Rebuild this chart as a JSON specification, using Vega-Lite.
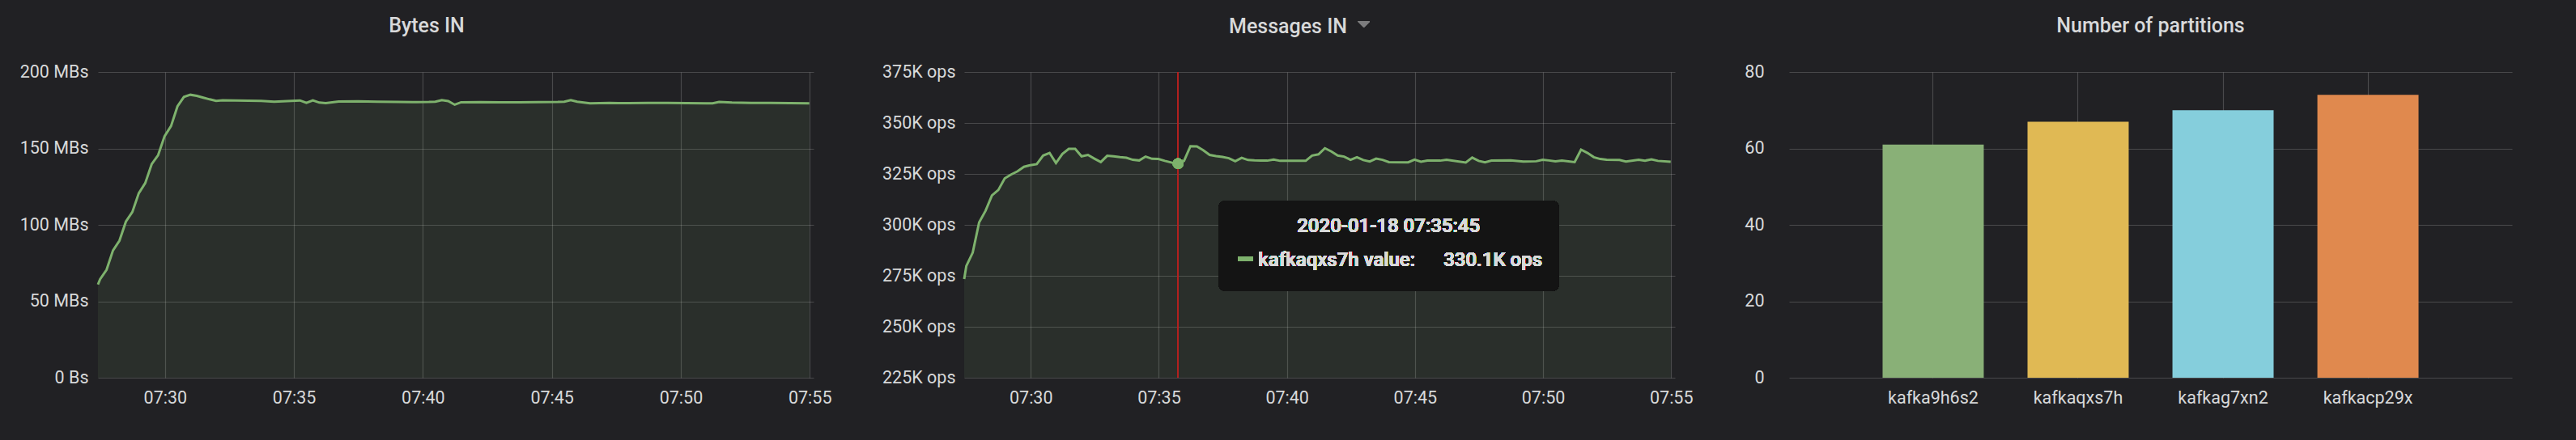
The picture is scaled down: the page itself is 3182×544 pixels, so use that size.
{
  "$schema": "https://vega.github.io/schema/vega-lite/v6.json",
  "background": "#212124",
  "padding": {"left": 24, "top": 19, "right": 90, "bottom": 80},
  "spacing": 62,
  "config": {
    "font": "Roboto",
    "view": {"stroke": null},
    "axis": {
      "domain": false, "ticks": false, "tickSize": 0,
      "labelColor": "#d8d9da", "labelFontSize": 21.5, "labelFont": "Roboto",
      "gridColor": "#ffffff", "gridOpacity": 0.18, "gridWidth": 1.2,
      "title": null, "labelFlush": false, "labelOverlap": false
    },
    "title": {"color": "#d8d9da", "fontSize": 25, "fontWeight": 500, "font": "Roboto", "anchor": "middle", "baseline": "alphabetic", "offset": 33.5}
  },
  "datasets": {
    "bytes": [
      {"time": "2020-01-18T07:27:24", "mbps": 61.0},
      {"time": "2020-01-18T07:27:29", "mbps": 64.5},
      {"time": "2020-01-18T07:27:44", "mbps": 70.6},
      {"time": "2020-01-18T07:27:59", "mbps": 83.3},
      {"time": "2020-01-18T07:28:14", "mbps": 89.7},
      {"time": "2020-01-18T07:28:29", "mbps": 102.1},
      {"time": "2020-01-18T07:28:44", "mbps": 108.4},
      {"time": "2020-01-18T07:28:59", "mbps": 120.7},
      {"time": "2020-01-18T07:29:14", "mbps": 127.3},
      {"time": "2020-01-18T07:29:29", "mbps": 139.7},
      {"time": "2020-01-18T07:29:44", "mbps": 145.6},
      {"time": "2020-01-18T07:29:59", "mbps": 158.0},
      {"time": "2020-01-18T07:30:14", "mbps": 164.6},
      {"time": "2020-01-18T07:30:29", "mbps": 177.5},
      {"time": "2020-01-18T07:30:44", "mbps": 183.7},
      {"time": "2020-01-18T07:30:59", "mbps": 185.1},
      {"time": "2020-01-18T07:31:14", "mbps": 184.4},
      {"time": "2020-01-18T07:31:29", "mbps": 183.2},
      {"time": "2020-01-18T07:31:44", "mbps": 182.1},
      {"time": "2020-01-18T07:31:59", "mbps": 181.1},
      {"time": "2020-01-18T07:32:14", "mbps": 181.5},
      {"time": "2020-01-18T07:32:44", "mbps": 181.3},
      {"time": "2020-01-18T07:33:14", "mbps": 181.2},
      {"time": "2020-01-18T07:33:44", "mbps": 181.1},
      {"time": "2020-01-18T07:34:14", "mbps": 180.6},
      {"time": "2020-01-18T07:34:44", "mbps": 181.0},
      {"time": "2020-01-18T07:35:14", "mbps": 181.4},
      {"time": "2020-01-18T07:35:29", "mbps": 179.8},
      {"time": "2020-01-18T07:35:44", "mbps": 181.4},
      {"time": "2020-01-18T07:35:59", "mbps": 180.0},
      {"time": "2020-01-18T07:36:14", "mbps": 179.6},
      {"time": "2020-01-18T07:36:29", "mbps": 180.2},
      {"time": "2020-01-18T07:36:44", "mbps": 180.7},
      {"time": "2020-01-18T07:37:29", "mbps": 180.8},
      {"time": "2020-01-18T07:38:14", "mbps": 180.6},
      {"time": "2020-01-18T07:38:59", "mbps": 180.4},
      {"time": "2020-01-18T07:39:44", "mbps": 180.3},
      {"time": "2020-01-18T07:40:14", "mbps": 180.4},
      {"time": "2020-01-18T07:40:29", "mbps": 180.6},
      {"time": "2020-01-18T07:40:44", "mbps": 181.6},
      {"time": "2020-01-18T07:40:59", "mbps": 181.0},
      {"time": "2020-01-18T07:41:14", "mbps": 178.6},
      {"time": "2020-01-18T07:41:29", "mbps": 180.2},
      {"time": "2020-01-18T07:42:14", "mbps": 180.3},
      {"time": "2020-01-18T07:42:59", "mbps": 180.1},
      {"time": "2020-01-18T07:43:44", "mbps": 180.2},
      {"time": "2020-01-18T07:44:29", "mbps": 180.3},
      {"time": "2020-01-18T07:45:14", "mbps": 180.4},
      {"time": "2020-01-18T07:45:29", "mbps": 180.6},
      {"time": "2020-01-18T07:45:44", "mbps": 181.6},
      {"time": "2020-01-18T07:45:59", "mbps": 180.6},
      {"time": "2020-01-18T07:46:29", "mbps": 179.5},
      {"time": "2020-01-18T07:47:14", "mbps": 179.7},
      {"time": "2020-01-18T07:47:59", "mbps": 179.6},
      {"time": "2020-01-18T07:48:44", "mbps": 179.8},
      {"time": "2020-01-18T07:49:29", "mbps": 179.7},
      {"time": "2020-01-18T07:50:14", "mbps": 179.6},
      {"time": "2020-01-18T07:50:59", "mbps": 179.5},
      {"time": "2020-01-18T07:51:14", "mbps": 179.5},
      {"time": "2020-01-18T07:51:29", "mbps": 180.4},
      {"time": "2020-01-18T07:51:59", "mbps": 180.0},
      {"time": "2020-01-18T07:52:44", "mbps": 179.8},
      {"time": "2020-01-18T07:53:29", "mbps": 179.7},
      {"time": "2020-01-18T07:54:14", "mbps": 179.6},
      {"time": "2020-01-18T07:54:59", "mbps": 179.5}
    ],
    "msgs": [
      {"time": "2020-01-18T07:27:24", "kops": 273.4},
      {"time": "2020-01-18T07:27:29", "kops": 279.8},
      {"time": "2020-01-18T07:27:44", "kops": 286.4},
      {"time": "2020-01-18T07:27:59", "kops": 301.2},
      {"time": "2020-01-18T07:28:14", "kops": 306.9},
      {"time": "2020-01-18T07:28:29", "kops": 314.4},
      {"time": "2020-01-18T07:28:44", "kops": 317.1},
      {"time": "2020-01-18T07:28:59", "kops": 322.8},
      {"time": "2020-01-18T07:29:14", "kops": 324.7},
      {"time": "2020-01-18T07:29:29", "kops": 326.3},
      {"time": "2020-01-18T07:29:44", "kops": 328.5},
      {"time": "2020-01-18T07:29:59", "kops": 329.3},
      {"time": "2020-01-18T07:30:14", "kops": 329.8},
      {"time": "2020-01-18T07:30:29", "kops": 334.0},
      {"time": "2020-01-18T07:30:44", "kops": 335.3},
      {"time": "2020-01-18T07:30:59", "kops": 330.3},
      {"time": "2020-01-18T07:31:14", "kops": 334.8},
      {"time": "2020-01-18T07:31:29", "kops": 337.3},
      {"time": "2020-01-18T07:31:44", "kops": 337.3},
      {"time": "2020-01-18T07:31:59", "kops": 333.6},
      {"time": "2020-01-18T07:32:14", "kops": 334.3},
      {"time": "2020-01-18T07:32:29", "kops": 332.5},
      {"time": "2020-01-18T07:32:44", "kops": 330.8},
      {"time": "2020-01-18T07:32:59", "kops": 333.9},
      {"time": "2020-01-18T07:33:14", "kops": 333.6},
      {"time": "2020-01-18T07:33:29", "kops": 333.2},
      {"time": "2020-01-18T07:33:44", "kops": 332.9},
      {"time": "2020-01-18T07:33:59", "kops": 331.9},
      {"time": "2020-01-18T07:34:14", "kops": 331.6},
      {"time": "2020-01-18T07:34:29", "kops": 333.5},
      {"time": "2020-01-18T07:34:44", "kops": 332.4},
      {"time": "2020-01-18T07:34:59", "kops": 332.3},
      {"time": "2020-01-18T07:35:14", "kops": 331.4},
      {"time": "2020-01-18T07:35:29", "kops": 330.6},
      {"time": "2020-01-18T07:35:44", "kops": 329.8},
      {"time": "2020-01-18T07:35:59", "kops": 331.4},
      {"time": "2020-01-18T07:36:14", "kops": 338.6},
      {"time": "2020-01-18T07:36:29", "kops": 338.5},
      {"time": "2020-01-18T07:36:44", "kops": 336.6},
      {"time": "2020-01-18T07:36:59", "kops": 334.3},
      {"time": "2020-01-18T07:37:14", "kops": 333.7},
      {"time": "2020-01-18T07:37:29", "kops": 333.3},
      {"time": "2020-01-18T07:37:44", "kops": 332.7},
      {"time": "2020-01-18T07:37:59", "kops": 331.2},
      {"time": "2020-01-18T07:38:14", "kops": 332.9},
      {"time": "2020-01-18T07:38:29", "kops": 331.8},
      {"time": "2020-01-18T07:38:44", "kops": 331.6},
      {"time": "2020-01-18T07:38:59", "kops": 331.5},
      {"time": "2020-01-18T07:39:14", "kops": 331.5},
      {"time": "2020-01-18T07:39:29", "kops": 332.0},
      {"time": "2020-01-18T07:39:44", "kops": 331.4},
      {"time": "2020-01-18T07:40:14", "kops": 331.4},
      {"time": "2020-01-18T07:40:44", "kops": 331.4},
      {"time": "2020-01-18T07:40:59", "kops": 334.0},
      {"time": "2020-01-18T07:41:14", "kops": 334.6},
      {"time": "2020-01-18T07:41:29", "kops": 337.6},
      {"time": "2020-01-18T07:41:44", "kops": 336.0},
      {"time": "2020-01-18T07:41:59", "kops": 334.0},
      {"time": "2020-01-18T07:42:14", "kops": 333.5},
      {"time": "2020-01-18T07:42:29", "kops": 331.9},
      {"time": "2020-01-18T07:42:44", "kops": 333.2},
      {"time": "2020-01-18T07:42:59", "kops": 331.8},
      {"time": "2020-01-18T07:43:14", "kops": 331.1},
      {"time": "2020-01-18T07:43:29", "kops": 332.5},
      {"time": "2020-01-18T07:43:44", "kops": 331.9},
      {"time": "2020-01-18T07:43:59", "kops": 330.8},
      {"time": "2020-01-18T07:44:44", "kops": 330.7},
      {"time": "2020-01-18T07:44:59", "kops": 332.0},
      {"time": "2020-01-18T07:45:14", "kops": 331.0},
      {"time": "2020-01-18T07:45:29", "kops": 331.5},
      {"time": "2020-01-18T07:45:59", "kops": 331.5},
      {"time": "2020-01-18T07:46:14", "kops": 331.9},
      {"time": "2020-01-18T07:46:59", "kops": 330.6},
      {"time": "2020-01-18T07:47:14", "kops": 333.0},
      {"time": "2020-01-18T07:47:29", "kops": 331.4},
      {"time": "2020-01-18T07:47:44", "kops": 330.7},
      {"time": "2020-01-18T07:47:59", "kops": 331.5},
      {"time": "2020-01-18T07:48:44", "kops": 331.6},
      {"time": "2020-01-18T07:49:14", "kops": 331.1},
      {"time": "2020-01-18T07:49:44", "kops": 331.2},
      {"time": "2020-01-18T07:49:59", "kops": 331.9},
      {"time": "2020-01-18T07:50:14", "kops": 331.6},
      {"time": "2020-01-18T07:50:29", "kops": 331.2},
      {"time": "2020-01-18T07:50:44", "kops": 331.5},
      {"time": "2020-01-18T07:51:14", "kops": 330.8},
      {"time": "2020-01-18T07:51:29", "kops": 336.9},
      {"time": "2020-01-18T07:51:44", "kops": 335.3},
      {"time": "2020-01-18T07:51:59", "kops": 333.2},
      {"time": "2020-01-18T07:52:14", "kops": 332.3},
      {"time": "2020-01-18T07:52:29", "kops": 331.9},
      {"time": "2020-01-18T07:52:59", "kops": 331.8},
      {"time": "2020-01-18T07:53:14", "kops": 331.1},
      {"time": "2020-01-18T07:53:44", "kops": 331.9},
      {"time": "2020-01-18T07:53:59", "kops": 331.5},
      {"time": "2020-01-18T07:54:14", "kops": 332.1},
      {"time": "2020-01-18T07:54:29", "kops": 331.4},
      {"time": "2020-01-18T07:54:59", "kops": 331.0}
    ],
    "parts": [
      {"broker": "kafka9h6s2", "partitions": 61},
      {"broker": "kafkaqxs7h", "partitions": 67},
      {"broker": "kafkag7xn2", "partitions": 70},
      {"broker": "kafkacp29x", "partitions": 74}
    ]
  },
  "hconcat": [
    {
      "width": 884, "height": 378,
      "title": {"text": "Bytes IN", "dx": -36},
      "data": {"name": "bytes"},
      "encoding": {
        "x": {"field": "time", "type": "temporal",
          "scale": {"domain": [{"year": 2020, "month": 1, "date": 18, "hours": 7, "minutes": 27, "seconds": 24}, {"year": 2020, "month": 1, "date": 18, "hours": 7, "minutes": 55, "seconds": 9}]},
          "axis": {"format": "%H:%M", "labelPadding": 14, "grid": true,
            "values": [
              {"year": 2020, "month": 1, "date": 18, "hours": 7, "minutes": 30},
              {"year": 2020, "month": 1, "date": 18, "hours": 7, "minutes": 35},
              {"year": 2020, "month": 1, "date": 18, "hours": 7, "minutes": 40},
              {"year": 2020, "month": 1, "date": 18, "hours": 7, "minutes": 45},
              {"year": 2020, "month": 1, "date": 18, "hours": 7, "minutes": 50},
              {"year": 2020, "month": 1, "date": 18, "hours": 7, "minutes": 55}
            ]}}
      },
      "layer": [
        {"mark": {"type": "area", "color": "#7eb26d", "opacity": 0.1},
         "encoding": {"y": {"field": "mbps", "type": "quantitative",
            "scale": {"domain": [0, 200], "nice": false, "zero": false},
            "axis": {"values": [0, 50, 100, 150, 200], "labelPadding": 12, "grid": true,
              "labelExpr": "datum.value == 0 ? '0 Bs' : datum.value + ' MBs'"}},
           "y2": {"datum": 0}}},
        {"mark": {"type": "line", "color": "#7eb26d", "strokeWidth": 3},
         "encoding": {"y": {"field": "mbps", "type": "quantitative"}}}
      ]
    },
    {
      "width": 878, "height": 378,
      "title": {"text": "Messages IN", "dx": -39, "offset": -19.7},
      "data": {"name": "msgs"},
      "encoding": {
        "x": {"field": "time", "type": "temporal",
          "scale": {"domain": [{"year": 2020, "month": 1, "date": 18, "hours": 7, "minutes": 27, "seconds": 24}, {"year": 2020, "month": 1, "date": 18, "hours": 7, "minutes": 55, "seconds": 9}]},
          "axis": {"format": "%H:%M", "labelPadding": 14, "grid": true,
            "values": [
              {"year": 2020, "month": 1, "date": 18, "hours": 7, "minutes": 30},
              {"year": 2020, "month": 1, "date": 18, "hours": 7, "minutes": 35},
              {"year": 2020, "month": 1, "date": 18, "hours": 7, "minutes": 40},
              {"year": 2020, "month": 1, "date": 18, "hours": 7, "minutes": 45},
              {"year": 2020, "month": 1, "date": 18, "hours": 7, "minutes": 50},
              {"year": 2020, "month": 1, "date": 18, "hours": 7, "minutes": 55}
            ]}}
      },
      "layer": [
        {"mark": {"type": "area", "color": "#7eb26d", "opacity": 0.1},
         "encoding": {"y": {"field": "kops", "type": "quantitative",
            "scale": {"domain": [225, 375], "nice": false, "zero": false},
            "axis": {"values": [225, 250, 275, 300, 325, 350, 375], "labelPadding": 11, "grid": true,
              "labelExpr": "datum.value + 'K ops'"}},
           "y2": {"datum": 225}}},
        {"mark": {"type": "line", "color": "#7eb26d", "strokeWidth": 3},
         "encoding": {"y": {"field": "kops", "type": "quantitative"}}},
        {"mark": {"type": "rule", "color": "#b3201f", "strokeWidth": 1.5},
         "encoding": {"x": {"datum": {"year": 2020, "month": 1, "date": 18, "hours": 7, "minutes": 35, "seconds": 45}, "type": "temporal"}}},
        {"mark": {"type": "point", "filled": true, "color": "#7eb26d", "opacity": 0.3, "size": 180},
         "encoding": {"x": {"datum": {"year": 2020, "month": 1, "date": 18, "hours": 7, "minutes": 35, "seconds": 45}, "type": "temporal"},
           "y": {"datum": 330.1, "type": "quantitative"}}},
        {"mark": {"type": "point", "filled": true, "color": "#7c7c7e", "opacity": 1, "size": 225, "shape": "M-1,-0.5L1,-0.5L0,0.5Z", "clip": false},
         "encoding": {"x": {"datum": {"year": 2020, "month": 1, "date": 18, "hours": 7, "minutes": 43, "seconds": 0}, "type": "temporal"},
           "y": {"datum": 398.4, "type": "quantitative"}}},
        {"mark": {"type": "rect", "fill": "#141414", "cornerRadius": 8},
         "encoding": {
           "x": {"datum": {"year": 2020, "month": 1, "date": 18, "hours": 7, "minutes": 37, "seconds": 20}, "type": "temporal"},
           "x2": {"datum": {"year": 2020, "month": 1, "date": 18, "hours": 7, "minutes": 50, "seconds": 37}},
           "y": {"datum": 311.8, "type": "quantitative"},
           "y2": {"datum": 267.6}}},
        {"mark": {"type": "rule", "color": "#7eb26d", "strokeWidth": 5},
         "encoding": {
           "x": {"datum": {"year": 2020, "month": 1, "date": 18, "hours": 7, "minutes": 38, "seconds": 5}, "type": "temporal"},
           "x2": {"datum": {"year": 2020, "month": 1, "date": 18, "hours": 7, "minutes": 38, "seconds": 40}},
           "y": {"datum": 283.3, "type": "quantitative"}}},
        {"mark": {"type": "text", "text": "2020-01-18 07:35:45", "fontSize": 24, "fontWeight": 500, "color": "#d8d9da", "align": "center", "baseline": "middle"},
         "encoding": {
           "x": {"datum": {"year": 2020, "month": 1, "date": 18, "hours": 7, "minutes": 43, "seconds": 58}, "type": "temporal"},
           "y": {"datum": 299.1, "type": "quantitative"}}},
        {"mark": {"type": "text", "text": "kafkaqxs7h value:", "fontSize": 24, "fontWeight": 500, "color": "#d8d9da", "align": "left", "baseline": "middle"},
         "encoding": {
           "x": {"datum": {"year": 2020, "month": 1, "date": 18, "hours": 7, "minutes": 38, "seconds": 53}, "type": "temporal"},
           "y": {"datum": 282.5, "type": "quantitative"}}},
        {"mark": {"type": "text", "text": "330.1K ops", "fontSize": 24, "fontWeight": 500, "color": "#d8d9da", "align": "left", "baseline": "middle"},
         "encoding": {
           "x": {"datum": {"year": 2020, "month": 1, "date": 18, "hours": 7, "minutes": 46, "seconds": 7}, "type": "temporal"},
           "y": {"datum": 282.5, "type": "quantitative"}}}
      ]
    },
    {
      "width": 893, "height": 378,
      "title": {"text": "Number of partitions"},
      "data": {"name": "parts"},
      "mark": {"type": "bar"},
      "encoding": {
        "x": {"field": "broker", "type": "nominal", "sort": null,
          "scale": {"paddingInner": 0.302, "paddingOuter": 0.645},
          "axis": {"labelAngle": 0, "grid": true, "bandPosition": 0.5, "labelPadding": 14}},
        "y": {"field": "partitions", "type": "quantitative",
          "scale": {"domain": [0, 80], "nice": false},
          "axis": {"values": [0, 20, 40, 60, 80], "labelPadding": 31, "grid": true}},
        "color": {"field": "broker", "type": "nominal", "legend": null,
          "scale": {"domain": ["kafka9h6s2", "kafkaqxs7h", "kafkag7xn2", "kafkacp29x"],
            "range": ["#89b077", "#e0b954", "#85cedc", "#e0894e"]}}
      }
    }
  ]
}
